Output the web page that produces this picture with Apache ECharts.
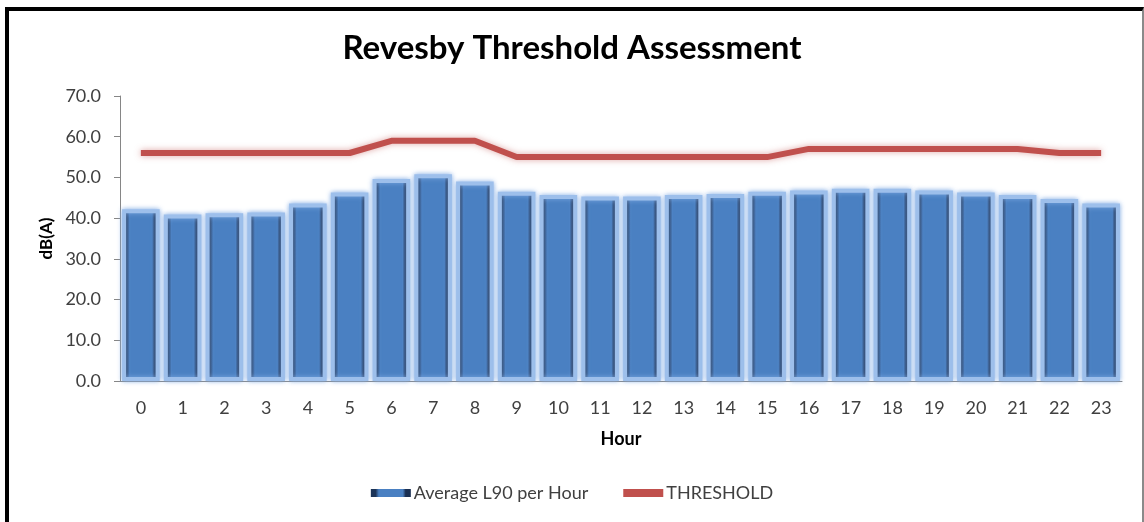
<!DOCTYPE html>
<html>
<head>
<meta charset="utf-8">
<script src="https://cdn.jsdelivr.net/npm/echarts@6/dist/echarts.min.js"></script>
<style>
  html, body { margin: 0; padding: 0; background: #fff; }
  #graph { position: absolute; left: 0; top: 0; width: 1144px; height: 522px; }
  #frame {
    position: absolute; left: 5px; top: 7px; width: 1133px; height: 530px;
    border-top: 4px solid #000; border-left: 4px solid #000; border-right: 2px solid #8a8a8a;
    pointer-events: none;
  }
</style>
</head>
<body>
<div id="graph"></div>
<div id="frame"></div>
<script>
// hours on the x axis
var hours = ['0','1','2','3','4','5','6','7','8','9','10','11','12','13','14','15','16','17','18','19','20','21','22','23'];
// Average L90 per hour, dB(A)
var avgL90 = [42.2, 40.9, 41.2, 41.4, 43.6, 46.3, 49.6, 50.8, 49.0, 46.5, 45.7, 45.3,
              45.3, 45.7, 45.9, 46.5, 46.8, 47.2, 47.2, 46.8, 46.3, 45.7, 44.7, 43.6];
// threshold per hour
var threshold = [56, 56, 56, 56, 56, 56, 59, 59, 59, 55, 55, 55,
                 55, 55, 55, 55, 57, 57, 57, 57, 57, 57, 56, 56];
var yTicks = { min: 0, max: 70, step: 10 };

var font = 'Lato';
var myChart = echarts.init(document.getElementById('graph'));

// dark sides, plain blue face
var barFill = {
    type: 'linear', x: 0, y: 0, x2: 1, y2: 0,
    colorStops: [
        { offset: 0, color: '#1c3458' },
        { offset: 0.12, color: '#1c3458' },
        { offset: 0.2, color: '#4a80c2' },
        { offset: 0.8, color: '#4a80c2' },
        { offset: 0.87, color: '#1a2f52' },
        { offset: 1, color: '#1a2f52' }
    ]
};

var option = {
    backgroundColor: '#fff',
    animation: false,
    title: {
        text: 'Revesby Threshold Assessment',
        left: 'center',
        top: 27,
        textStyle: { fontFamily: font, fontWeight: 'bold', fontSize: 33, color: '#000' }
    },
    grid: { left: 120, right: 22, top: 96, bottom: 141 },
    legend: {
        bottom: 15,
        left: 'center',
        itemWidth: 40,
        itemHeight: 8,
        itemGap: 35,
        textStyle: { fontFamily: font, fontSize: 18, color: '#404040', padding: [0, 0, 0, -2] },
        data: [
            { name: 'Average L90 per Hour', icon: 'rect', itemStyle: { borderWidth: 0, shadowBlur: 0 } },
            { name: 'THRESHOLD', icon: 'rect', itemStyle: { color: '#c0504d' } }
        ]
    },
    xAxis: {
        type: 'category',
        data: hours,
        name: 'Hour',
        nameLocation: 'middle',
        nameGap: 49,
        nameTextStyle: { fontFamily: font, fontWeight: 'bold', fontSize: 18, color: '#000' },
        axisLine: { lineStyle: { color: '#868686', width: 1 } },
        axisTick: { show: false },
        axisLabel: { fontFamily: font, fontSize: 18, color: '#404040', margin: 18 }
    },
    yAxis: {
        type: 'value',
        min: yTicks.min,
        max: yTicks.max,
        interval: yTicks.step,
        name: 'dB(A)',
        nameLocation: 'middle',
        nameGap: 64,
        nameTextStyle: { fontFamily: font, fontWeight: 'bold', fontSize: 17, color: '#000' },
        axisLine: { show: true, lineStyle: { color: '#868686', width: 1 } },
        axisTick: { show: true, length: 6, lineStyle: { color: '#868686' } },
        splitLine: { show: false },
        axisLabel: {
            fontFamily: font, fontSize: 18, color: '#404040', margin: 19,
            formatter: function (v) { return v.toFixed(1); }
        }
    },
    series: [
        {
            name: 'Average L90 per Hour',
            type: 'bar',
            data: avgL90,
            barCategoryGap: '10%',
            itemStyle: {
                color: barFill,
                borderColor: '#9dbfeb',
                borderWidth: 4,
                shadowBlur: 5,
                shadowColor: 'rgba(130,172,228,0.9)'
            }
        },
        {
            name: 'THRESHOLD',
            type: 'line',
            data: threshold,
            symbol: 'none',
            z: 5,
            itemStyle: { color: '#c0504d' },
            lineStyle: {
                color: '#c0504d',
                width: 6,
                shadowBlur: 6,
                shadowColor: 'rgba(192,80,77,0.5)'
            }
        }
    ]
};

myChart.setOption(option);
</script>
</body>
</html>
